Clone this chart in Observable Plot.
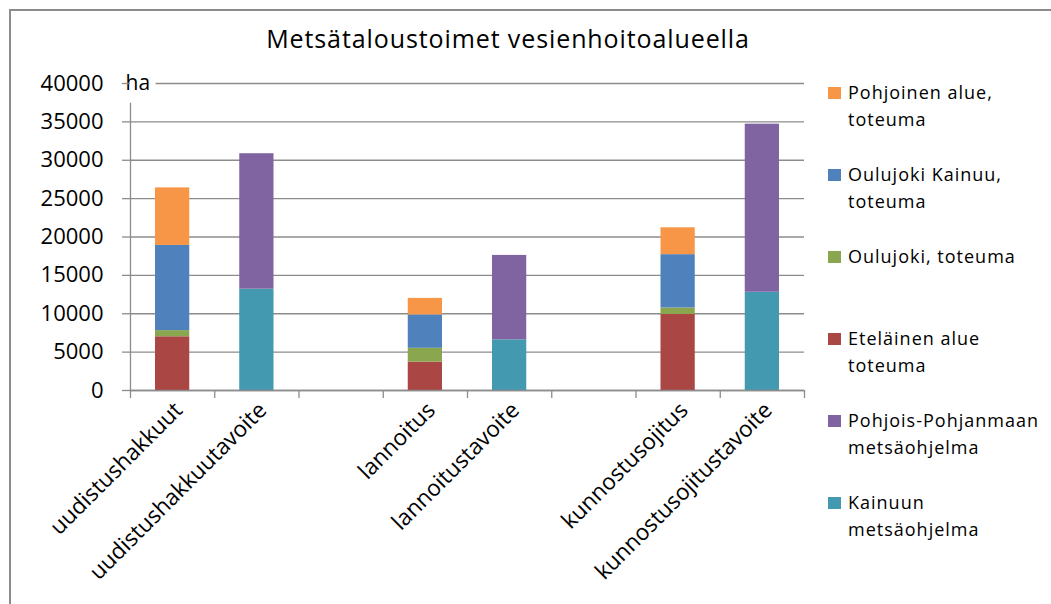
<!DOCTYPE html>
<html>
<head>
<meta charset="utf-8">
<script src="https://cdn.jsdelivr.net/npm/d3@7"></script>
<script src="https://cdn.jsdelivr.net/npm/@observablehq/plot@0.6"></script>
<style>
  html, body { margin: 0; padding: 0; background: #fff; }
  #wrap { position: relative; width: 1051px; height: 604px; overflow: hidden; font-family: "Open Sans", sans-serif; color: #000; }
  #border { position: absolute; left: 9px; top: 9px; width: 1100px; height: 700px; border: 2px solid #8c8c8c; box-sizing: border-box; }
  #chart { position: absolute; left: 0; top: 0; }
  #title { position: absolute; left: 0; width: 1016px; top: 22px; text-align: center; font-size: 25px; letter-spacing: 0.9px; line-height: 32px; }
  #legend { position: absolute; left: 828px; top: 79px; }
  .item { position: relative; height: 82px; }
  .sw { position: absolute; left: 0; top: 8px; width: 13px; height: 12px; }
  .lbl { position: absolute; left: 20px; top: 0; font-size: 18px; letter-spacing: 1px; line-height: 26.5px; white-space: nowrap; }
</style>
</head>
<body>
<div id="wrap">
  <div id="border"></div>
  <div id="chart"></div>
  <div id="title">Metsätaloustoimet vesienhoitoalueella</div>
  <div id="legend"></div>
</div>
<script>
// Category slots along the x axis (empty strings are gaps between groups)
const labels = ["uudistushakkuut", "uudistushakkuutavoite", "", "lannoitus", "lannoitustavoite", "", "kunnostusojitus", "kunnostusojitustavoite"];

// Series in stacking order (bottom to top)
const seriesNames = ["Eteläinen alue toteuma", "Oulujoki, toteuma", "Oulujoki Kainuu, toteuma", "Pohjoinen alue, toteuma", "Kainuun metsäohjelma", "Pohjois-Pohjanmaan metsäohjelma"];
const etelainen      = [7000, 0, 0, 3700, 0, 0, 9900, 0];
const oulujoki       = [800, 0, 0, 1800, 0, 0, 850, 0];
const oulujokiKainuu = [11100, 0, 0, 4350, 0, 0, 6950, 0];
const pohjoinen      = [7500, 0, 0, 2150, 0, 0, 3500, 0];
const kainuu         = [0, 13200, 0, 0, 6600, 0, 0, 12800];
const pohjoisPohjanmaa = [0, 17650, 0, 0, 11000, 0, 0, 21900];
const seriesValues = [etelainen, oulujoki, oulujokiKainuu, pohjoinen, kainuu, pohjoisPohjanmaa];
const seriesColors = ["#AA4644", "#8AA64E", "#4F81BD", "#F79646", "#4399AF", "#8064A2"];

// Legend order (top to bottom) and display text
const legendOrder = [3, 2, 1, 0, 5, 4];
const legendText = ["Pohjoinen alue,\ntoteuma", "Oulujoki Kainuu,\ntoteuma", "Oulujoki, toteuma", "Eteläinen alue\ntoteuma", "Pohjois-Pohjanmaan\nmetsäohjelma", "Kainuun\nmetsäohjelma"];

const yTicks = d3.range(0, 40001, 5000);
const unitLabel = "ha";

// Build stacked rows
const rows = [];
const cum = labels.map(() => 0);
seriesValues.forEach((vals, s) => {
  vals.forEach((v, i) => {
    if (v > 0) {
      rows.push({i, series: seriesNames[s], y1: cum[i], y2: cum[i] + v});
      cum[i] += v;
    }
  });
});

const labelTicks = labels.map((l, i) => l ? i + 0.5 : null).filter(v => v !== null);

const chart = Plot.plot({
  width: 1051,
  height: 604,
  marginLeft: 130,
  marginRight: 247,
  marginTop: 83,
  marginBottom: 214,
  style: {fontFamily: "Open Sans, sans-serif", fontSize: "20px", color: "#000", background: "transparent"},
  x: {domain: [0, labels.length], axis: null},
  y: {domain: [0, 40000], axis: null},
  color: {domain: seriesNames, range: seriesColors},
  marks: [
    Plot.gridY(yTicks, {stroke: "#8c8c8c", strokeOpacity: 1, strokeWidth: 1.3}),
    Plot.text([yTicks[yTicks.length - 1]], {y: d => d, text: () => unitLabel, frameAnchor: "left", textAnchor: "start", dx: -5, fontSize: 21, stroke: "white", strokeWidth: 14, fill: "#000"}),
    Plot.frame({anchor: "left", insetTop: 20, stroke: "#8c8c8c", strokeWidth: 1.3}),
    Plot.axisY(yTicks, {tickSize: 8, tickPadding: 19, fontSize: 22, stroke: "#8c8c8c", strokeWidth: 1.3, tickFormat: d => String(d)}),
    Plot.axisX(d3.range(0, labels.length + 1), {tickSize: 8, tickFormat: () => "", stroke: "#8c8c8c", strokeWidth: 1.3}),
    Plot.axisX(labelTicks, {tickSize: 0, tickRotate: -45, tickPadding: 16, dx: 6, fontSize: 22.5, tickFormat: v => labels[Math.floor(v)]}),
    Plot.rect(rows, {x1: d => d.i, x2: d => d.i + 1, y1: "y1", y2: "y2", fill: "series", insetLeft: 25, insetRight: 25}),
    Plot.ruleY([0], {stroke: "#8c8c8c", strokeWidth: 1.3})
  ]
});
document.getElementById("chart").appendChild(chart);

// Legend
const legend = document.getElementById("legend");
legendOrder.forEach((s, k) => {
  const item = document.createElement("div");
  item.className = "item";
  const sw = document.createElement("div");
  sw.className = "sw";
  sw.style.background = seriesColors[s];
  const lbl = document.createElement("div");
  lbl.className = "lbl";
  lbl.innerHTML = legendText[k].split("\n").join("<br>");
  item.appendChild(sw);
  item.appendChild(lbl);
  legend.appendChild(item);
});
</script>
</body>
</html>
